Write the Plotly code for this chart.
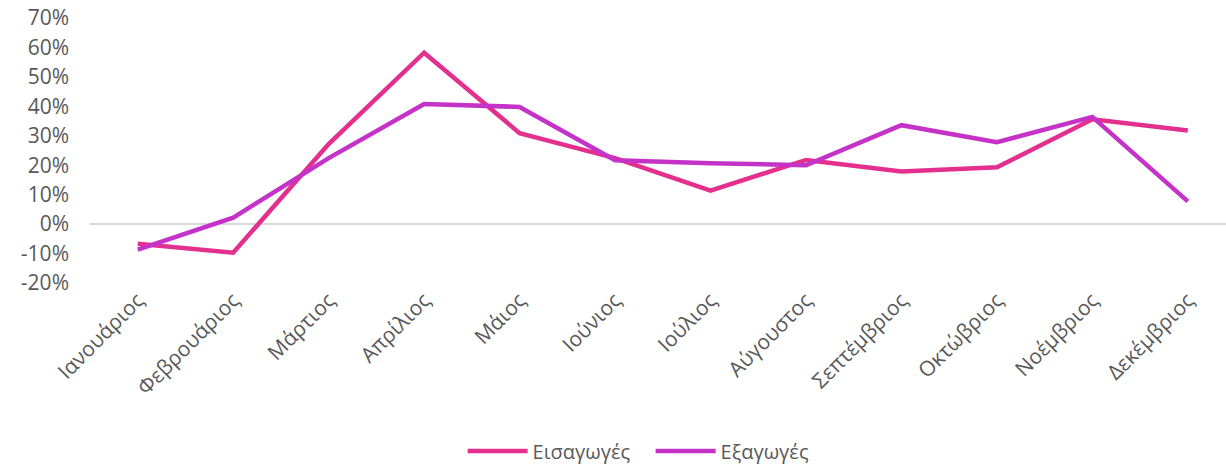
import plotly.graph_objects as go

months = ["Ιανουάριος", "Φεβρουάριος", "Μάρτιος", "Απρίλιος", "Μάιος", "Ιούνιος",
          "Ιούλιος", "Αύγουστος", "Σεπτέμβριος", "Οκτώβριος", "Νοέμβριος", "Δεκέμβριος"]
imports = [-0.067, -0.097, 0.272, 0.582, 0.309, 0.224, 0.114, 0.218, 0.179, 0.193, 0.356, 0.318]
exports = [-0.087, 0.022, 0.224, 0.408, 0.398, 0.217, 0.207, 0.200, 0.336, 0.278, 0.364, 0.077]
y_ticks = [-0.2, -0.1, 0, 0.1, 0.2, 0.3, 0.4, 0.5, 0.6, 0.7]
y_tick_labels = ["-20%", "-10%", "0%", "10%", "20%", "30%", "40%", "50%", "60%", "70%"]

FONT = "'Open Sans', sans-serif"
fig = go.Figure()
fig.add_trace(go.Scatter(x=months, y=imports, mode="lines", name="Εισαγωγές",
                         line=dict(color="#E3308F", width=4.5)))
fig.add_trace(go.Scatter(x=months, y=exports, mode="lines", name="Εξαγωγές",
                         line=dict(color="#C532C8", width=4.5)))

fig.update_layout(
    width=1226, height=466,
    margin=dict(l=90, r=0, t=18, b=183, autoexpand=False),
    plot_bgcolor="white", paper_bgcolor="white",
    font=dict(family=FONT, color="#595959", size=21),
    showlegend=True,
    legend=dict(orientation="h", x=0.328, xanchor="left", y=-0.634, yanchor="middle",
                font=dict(size=20, color="#595959"), itemwidth=60,
                entrywidth=113, entrywidthmode="pixels"),
    xaxis=dict(type="category", range=[-0.5, 11.4], tickangle=-45, showgrid=False,
               showline=False, ticks="", automargin=False, ticklabeloverflow="allow",
               tickfont=dict(size=21, color="#595959")),
    yaxis=dict(range=[-0.2, 0.7], tickvals=y_ticks, ticktext=y_tick_labels, showgrid=False,
               zeroline=True, zerolinecolor="#D9D9D9", zerolinewidth=1.5,
               showline=False, ticks="", automargin=False, ticklabeloverflow="allow",
               ticklabelstandoff=20,
               tickfont=dict(size=21, color="#595959")),
)
fig.write_html("out.html", config={"displayModeBar": False},
               post_script="document.body.style.margin='0px';document.body.style.overflow='hidden';")
